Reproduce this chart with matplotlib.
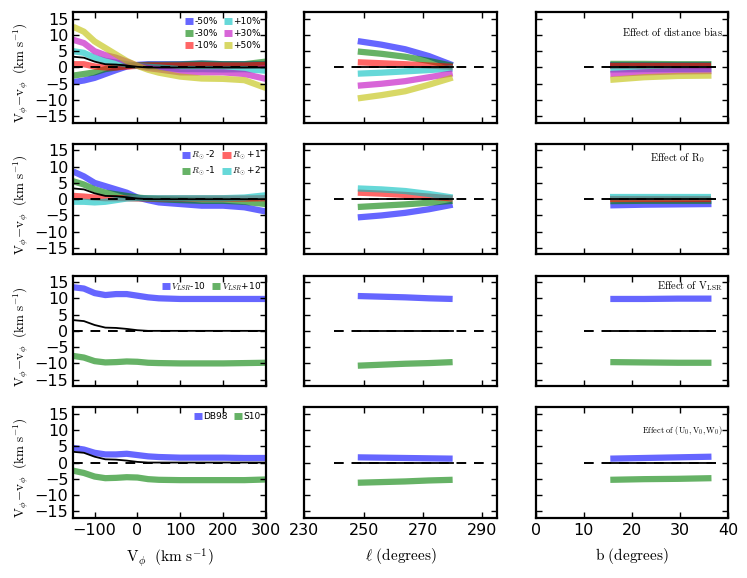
import numpy as np
import matplotlib as mpl
mpl.use("Agg")
import matplotlib.pyplot as plt

mpl.rcParams.update({
    "font.family": "DejaVu Sans",
    "mathtext.fontset": "cm",
    "font.size": 11,
    "axes.linewidth": 1.6,
    "xtick.direction": "in",
    "ytick.direction": "in",
    "xtick.top": True,
    "ytick.right": True,
    "xtick.major.size": 4.5,
    "ytick.major.size": 4.5,
    "xtick.major.width": 1.0,
    "ytick.major.width": 1.0,
    "xtick.labelsize": 11.5,
    "ytick.labelsize": 11.5,
    "legend.frameon": False,
})

# ---- data ----------------------------------------------------------------
vphi = np.array([-150, -125, -100, -75, -50, -25, 0, 25, 50, 100, 150, 200, 250, 300])
lon = np.array([248, 256, 264, 272, 280])
lat = np.array([15.5, 22.5, 29.5, 36.5])

base_vphi = [3.3, 3.0, 1.8, 1.0, 0.9, 0.6, 0.2, 0.0, 0.0, 0.0, 0.0, 0.0, 0.0, 0.0]
base_lon = [0, 0, 0, 0, 0]
base_lat = [0, 0, 0, 0]

# distance bias
dist_labels = ["-50%", "-30%", "-10%", "+10%", "+30%", "+50%"]
dist_colors = ["b", "g", "r", "c", "m", "y"]
dist_vphi = [
    [-4.5, -4.0, -3.2, -2.0, -0.8, 0.3, 0.8, 1.0, 1.0, 1.0, 1.2, 1.0, 1.0, 1.0],
    [-2.5, -2.0, -1.5, -0.5, 0.0, 0.5, 0.6, 0.8, 0.8, 0.9, 1.2, 1.0, 1.0, 1.8],
    [1.0, 1.0, 0.3, 0.0, 0.0, 0.3, 0.5, 0.6, 0.6, 0.6, 0.7, 0.6, 0.6, 0.8],
    [5.0, 4.5, 3.0, 2.0, 1.5, 1.0, 0.5, 0.2, 0.0, -0.5, -0.5, -0.6, -0.5, -1.0],
    [8.5, 7.5, 5.0, 3.8, 3.0, 1.8, 0.5, -0.2, -0.6, -1.5, -1.5, -1.5, -2.0, -3.5],
    [12.5, 11.0, 8.0, 6.0, 4.0, 2.0, 0.5, -0.7, -1.6, -2.8, -3.4, -3.5, -3.9, -6.3],
]
dist_lon = [
    [8.1, 7.0, 5.6, 3.5, 0.7],
    [4.9, 4.2, 3.3, 2.0, 0.5],
    [1.6, 1.3, 1.0, 0.6, 0.2],
    [-1.9, -1.6, -1.2, -0.8, -0.3],
    [-5.6, -5.0, -4.2, -3.0, -1.8],
    [-9.5, -8.5, -7.3, -5.3, -3.1],
]
dist_lat = [
    [0.8, 0.8, 0.8, 0.8],
    [1.1, 1.1, 1.0, 1.0],
    [0.6, 0.6, 0.6, 0.6],
    [-0.6, -0.5, -0.5, -0.5],
    [-2.0, -1.5, -1.2, -1.1],
    [-3.8, -3.0, -2.6, -2.5],
]

# R0
r0_labels = [r"$R_\odot$-2", r"$R_\odot$-1", r"$R_\odot$+1", r"$R_\odot$+2"]
r0_colors = ["b", "g", "r", "c"]
r0_vphi = [
    [8.5, 7.0, 5.0, 4.0, 3.0, 2.0, 0.5, -0.3, -1.0, -1.5, -2.0, -2.0, -2.5, -3.8],
    [5.5, 4.5, 3.0, 2.0, 1.5, 1.0, 0.5, 0.2, 0.0, -0.3, -0.5, -0.5, -0.8, -1.5],
    [1.0, 0.8, 0.5, 0.3, 0.3, 0.3, 0.2, 0.2, 0.2, 0.2, 0.2, 0.2, 0.2, 0.3],
    [-0.8, -0.8, -1.0, -0.8, -0.3, 0.2, 0.3, 0.3, 0.3, 0.3, 0.3, 0.3, 0.5, 1.2],
]
r0_lon = [
    [-5.6, -5.0, -4.2, -3.1, -1.7],
    [-2.4, -2.0, -1.6, -1.1, -0.5],
    [2.0, 1.7, 1.3, 0.8, 0.2],
    [3.3, 3.0, 2.5, 1.6, 0.5],
]
r0_lat = [
    [-1.9, -1.7, -1.6, -1.5],
    [-0.6, -0.5, -0.5, -0.5],
    [0.2, 0.2, 0.2, 0.2],
    [0.6, 0.6, 0.6, 0.6],
]

# V_LSR
vlsr_labels = [r"$V_{LSR}$-10", r"$V_{LSR}$+10"]
vlsr_colors = ["b", "g"]
vlsr_vphi = [
    [13.4, 13.0, 11.6, 11.0, 11.3, 11.3, 10.8, 10.3, 10.0, 9.8, 9.8, 9.8, 9.8, 9.8],
    [-7.7, -8.2, -9.3, -9.7, -9.6, -9.4, -9.5, -9.8, -9.9, -10.0, -10.0, -10.0, -9.9, -9.8],
]
vlsr_lon = [
    [10.7, 10.5, 10.3, 10.0, 9.8],
    [-10.7, -10.4, -10.1, -9.9, -9.6],
]
vlsr_lat = [
    [9.8, 9.8, 9.9, 9.9],
    [-9.6, -9.7, -9.8, -9.8],
]

# solar motion
sun_labels = ["DB98", "S10"]
sun_colors = ["b", "g"]
sun_vphi = [
    [4.5, 4.0, 3.0, 2.5, 2.5, 2.7, 2.3, 1.9, 1.7, 1.5, 1.5, 1.5, 1.4, 1.4],
    [-2.5, -3.2, -4.3, -4.8, -4.7, -4.5, -4.6, -5.1, -5.3, -5.4, -5.4, -5.4, -5.4, -5.2],
]
sun_lon = [
    [1.6, 1.5, 1.4, 1.3, 1.2],
    [-6.2, -6.0, -5.8, -5.5, -5.3],
]
sun_lat = [
    [1.2, 1.4, 1.6, 1.8],
    [-5.3, -5.1, -5.0, -4.8],
]

rows = [
    (dist_labels, dist_colors, dist_vphi, dist_lon, dist_lat,
     r"$\mathrm{Effect\ of\ distance\ bias}$", 7.5),
    (r0_labels, r0_colors, r0_vphi, r0_lon, r0_lat,
     r"$\mathrm{Effect\ of\ R_0}$", 7.5),
    (vlsr_labels, vlsr_colors, vlsr_vphi, vlsr_lon, vlsr_lat,
     r"$\mathrm{Effect\ of\ V_{LSR}}$", 7.5),
    (sun_labels, sun_colors, sun_vphi, sun_lon, sun_lat,
     r"$\mathrm{Effect\ of\ (U_0,V_0,W_0)}$", 6.0),
]
text_pos = [(0.97, 0.82), (0.88, 0.87), (0.97, 0.9), (0.97, 0.79)]

fig, axes = plt.subplots(4, 3, figsize=(7.47, 5.78), dpi=100)
fig.subplots_adjust(left=0.098, right=0.975, top=0.979, bottom=0.104,
                    wspace=0.2, hspace=0.19)

lw_c = 4.5
al = 0.6
for i, (labels, cols, yv, yl, yb, txt, tfs) in enumerate(rows):
    a1, a2, a3 = axes[i]
    # V_phi column
    a1.plot([-150, 300], [0, 0], "k--", lw=1.4, dashes=(5, 4), zorder=2)
    for lab, c, y in zip(labels, cols, yv):
        a1.plot(vphi, y, color=c, lw=lw_c, alpha=al, label=lab, solid_capstyle="butt", zorder=1)
    a1.plot(vphi, base_vphi, "k-", lw=1.3, zorder=3)
    leg = a1.legend(loc="upper right", ncol=2, fontsize=6.5, handlelength=0.9,
                    handletextpad=0.15, columnspacing=0.7, labelspacing=0.35,
                    borderaxespad=0.15)
    for h in leg.get_lines():
        h.set_linewidth(5)

    # longitude column
    a2.plot([240, 293], [0, 0], "k--", lw=1.4, dashes=(5, 4), zorder=2)
    for c, y in zip(cols, yl):
        a2.plot(lon, y, color=c, lw=lw_c, alpha=al, solid_capstyle="butt", zorder=1)
    a2.plot(lon, base_lon, "k-", lw=1.3, zorder=3)

    # latitude column
    a3.plot([10, 37.5], [0, 0], "k--", lw=1.4, dashes=(5, 4), zorder=2)
    for c, y in zip(cols, yb):
        a3.plot(lat, y, color=c, lw=lw_c, alpha=al, solid_capstyle="butt", zorder=1)
    a3.plot(lat, base_lat, "k-", lw=1.3, zorder=3)
    a3.text(text_pos[i][0], text_pos[i][1], txt, transform=a3.transAxes,
            ha="right", va="center", fontsize=tfs)

    a1.set_xlim(-150, 300)
    a1.set_xticks([-100, 0, 100, 200, 300])
    a2.set_xlim(230, 295)
    a2.set_xticks([230, 250, 270, 290])
    a3.set_xlim(0, 40)
    a3.set_xticks([0, 10, 20, 30, 40])
    for ax in (a1, a2, a3):
        ax.set_ylim(-17, 17)
        ax.set_yticks([-15, -10, -5, 0, 5, 10, 15])
        if i < 3:
            ax.set_xticklabels([])
    a2.set_yticklabels([])
    a3.set_yticklabels([])
    a1.set_ylabel(r"$\mathrm{V_\phi\!-\!v_\phi\ \ (km\ s^{-1})}$", fontsize=9.5)
    a1.yaxis.set_label_coords(-0.22, 0.45)

axes[3, 0].set_xlabel(r"$\mathrm{V_\phi\ \ (km\ s^{-1})}$", fontsize=11, labelpad=6)
axes[3, 1].set_xlabel(r"$\ell\ \mathrm{(degrees)}$", fontsize=11, labelpad=6)
axes[3, 2].set_xlabel(r"$\mathrm{b\ (degrees)}$", fontsize=11, labelpad=6)

fig.savefig("out.png", dpi=100)
